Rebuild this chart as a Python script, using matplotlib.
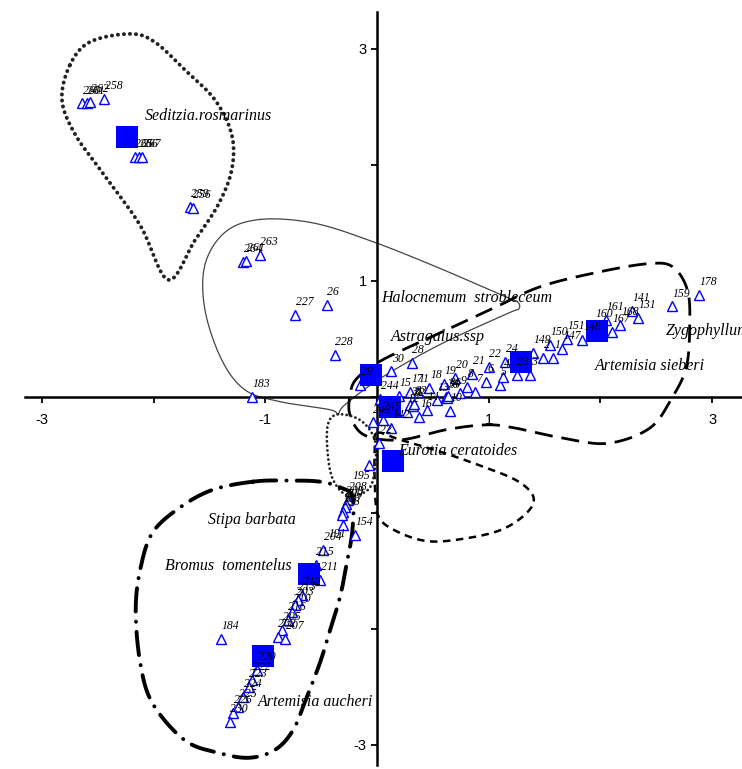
"""
Ordination biplot: sites (open triangles), species centroids (squares)
and hand-drawn group outlines.
"""
import numpy as np
import matplotlib
matplotlib.use('Agg')
import matplotlib.pyplot as plt
from matplotlib.transforms import Bbox, TransformedBbox

# ---- sites ----
site_x = [-2.64, -2.60, -2.57, -2.44, -2.17, -2.13, -2.10, -1.67, -1.65,
          -1.20, -1.17, -1.05, -0.73, -0.45, -0.38, -1.12, 0.13, 0.31, -0.15,
          -0.04, 0.05, 0.13, 0.03, 0.27, 0.38, 0.37, 0.45, 0.54, 0.65, 0.74,
          0.81, 0.88, 0.98, 1.10, 1.13, 1.25, 1.37, 1.49, 1.58, 1.66, 1.84,
          2.10, 2.18, 2.34, 2.64, 2.88,
          0.20, 0.30, 0.47, 0.60, 0.70, 0.85, 1.00, 1.15, 1.40, 1.55, 1.70,
          1.95, 2.05, 2.28, 0.30, 0.32, 0.33, 0.62, 0.63, 0.64,
          0.02, -0.07, -0.26, -0.28, -0.29, -0.30, -0.31, -0.30, -0.20,
          -0.48, -0.55, -0.51, -0.67, -0.71, -0.73, -0.76, -0.80, -0.85,
          -0.89, -0.82, -1.40, -1.07, -1.12, -1.15, -1.20, -1.24, -1.29, -1.32]
site_y = [2.53, 2.53, 2.54, 2.57, 2.07, 2.07, 2.07, 1.64, 1.63,
          1.16, 1.17, 1.22, 0.71, 0.79, 0.36, 0.00, 0.22, 0.29, 0.10,
          -0.22, -0.20, -0.27, -0.02, -0.13, -0.17, 0.04, -0.11, -0.03, -0.12, 0.03,
          0.09, 0.04, 0.13, 0.10, 0.17, 0.19, 0.19, 0.34, 0.34, 0.41, 0.49,
          0.56, 0.62, 0.68, 0.78, 0.88,
          0.01, 0.04, 0.08, 0.11, 0.16, 0.20, 0.26, 0.30, 0.38, 0.45, 0.50,
          0.60, 0.66, 0.74, -0.07, -0.08, -0.06, 0.00, -0.01, 0.01,
          -0.40, -0.59, -0.89, -0.92, -0.95, -0.99, -1.02, -1.10, -1.19,
          -1.32, -1.45, -1.58, -1.71, -1.75, -1.79, -1.85, -1.92, -2.01,
          -2.07, -2.09, -2.09, -2.35, -2.44, -2.50, -2.59, -2.67, -2.72, -2.80]
site_lab = ['260', '261', '262', '258', '265', '266', '267', '259', '256',
            '264', '261', '263', '227', '26', '228', '183', '30', '28', '29',
            '243', '245', '142', '244', '12', '16', '11', '14', '13', '10', '9',
            '8', '7', '6', '5', '4', '23', '3', '2', '1', '147', '148',
            '167', '168', '131', '159', '178',
            '15', '17', '18', '19', '20', '21', '22', '24', '149', '150', '151',
            '160', '161', '141', '31', '32', '33', '34', '35', '36',
            '22', '195', '208', '209', '200', '197', '198', '191', '154',
            '204', '215', '211', '212', '213', '203', '210', '216', '205',
            '202', '207', '184', '220', '222', '223', '224', '225', '226', '230']

# ---- species centroids ----
spec_x = [-2.24, -0.05, 0.12, 1.29, 1.97, 0.14, -0.61, -1.02]
spec_y = [2.24, 0.19, -0.09, 0.30, 0.57, -0.55, -1.53, -2.23]

# ---- species names ----
name_txt = ['Seditzia.rosmarinus', 'Halocnemum  strobleceum', 'Astragalus.ssp',
            'Zygophyllum', 'Artemisia sieberi', 'Eurotia ceratoides',
            'Stipa barbata', 'Bromus  tomentelus', 'Artemisia aucheri']
name_x = [-2.08, 0.04, 0.12, 2.59, 1.95, 0.19, -1.51, -1.90, -1.07]
name_y = [2.42, 0.85, 0.52, 0.57, 0.27, -0.47, -1.06, -1.46, -2.63]

# ---- group outlines (control points) ----
hull1_x = [-2.75, -2.57, -2.21, -1.99, -1.72, -1.45, -1.30, -1.30, -1.42, -1.63, -1.87, -2.12, -2.44, -2.70, -2.82]
hull1_y = [2.86, 3.06, 3.13, 3.06, 2.82, 2.56, 2.26, 1.96, 1.66, 1.35, 1.01, 1.48, 1.91, 2.26, 2.56]
hull2_x = [-1.05, -0.57, -0.04, 0.56, 1.16, 1.26, 1.27, 1.17, 0.56, 0.03, -0.29, -0.35, -0.42, -0.87, -1.18, -1.39, -1.54, -1.54, -1.36]
hull2_y = [1.53, 1.50, 1.34, 1.11, 0.86, 0.82, 0.76, 0.72, 0.45, 0.16, -0.07, -0.15, -0.11, -0.04, 0.06, 0.32, 0.75, 1.14, 1.42]
hull3_x = [-0.18, 0.05, 0.56, 1.01, 1.46, 2.00, 2.44, 2.65, 2.78, 2.80, 2.77, 2.64, 2.44, 2.06, 1.64, 1.25, 0.99, 0.63, 0.21, -0.11, -0.24, -0.24]
hull3_y = [0.16, 0.32, 0.55, 0.75, 0.95, 1.08, 1.15, 1.12, 0.92, 0.62, 0.26, -0.01, -0.27, -0.40, -0.35, -0.27, -0.24, -0.28, -0.37, -0.33, -0.16, 0.02]
hull4_x = [0.00, 0.21, 0.56, 0.92, 1.25, 1.40, 1.34, 1.10, 0.72, 0.43, 0.16, 0.01, -0.02, -0.02]
hull4_y = [-0.31, -0.37, -0.47, -0.59, -0.72, -0.86, -1.00, -1.15, -1.23, -1.24, -1.15, -1.02, -0.72, -0.46]
hull5_x = [-0.35, -0.44, -0.44, -0.39, -0.26, -0.08, -0.02, -0.02, -0.15]
hull5_y = [-0.15, -0.24, -0.50, -0.72, -0.85, -0.80, -0.63, -0.37, -0.20]
hull6_x = [-1.11, -0.81, -0.51, -0.33, -0.22, -0.22, -0.27, -0.33, -0.42, -0.51, -0.63, -0.75, -0.91, -1.14, -1.41, -1.72, -2.01, -2.12, -2.16, -2.12, -2.01, -1.76, -1.47]
hull6_y = [-0.73, -0.72, -0.73, -0.78, -0.86, -1.15, -1.43, -1.72, -2.01, -2.29, -2.59, -2.87, -3.04, -3.11, -3.07, -2.96, -2.64, -2.29, -1.84, -1.49, -1.17, -0.95, -0.80]


def smooth_closed(xs, ys, n=24):
    # closed Catmull-Rom spline through the control points
    P = np.column_stack([xs, ys])
    m = len(P)
    t = np.linspace(0, 1, n, endpoint=False)[:, None]
    segs = []
    for i in range(m):
        p0, p1, p2, p3 = P[i - 1], P[i], P[(i + 1) % m], P[(i + 2) % m]
        segs.append(0.5 * (2 * p1 + (-p0 + p2) * t + (2 * p0 - 5 * p1 + 4 * p2 - p3) * t ** 2
                           + (-p0 + 3 * p1 - 3 * p2 + p3) * t ** 3))
    segs.append(segs[0][:1])
    out = np.vstack(segs)
    return out[:, 0], out[:, 1]


fig = plt.figure(figsize=(7.42, 7.69), dpi=100)
ax = fig.add_axes([0, 0, 1, 1])
ax.set_xlim(-3.375, 3.268)
ax.set_ylim(-3.207, 3.422)

# outlines
hx, hy = smooth_closed(hull1_x, hull1_y)
ax.plot(hx, hy, color='#222222', lw=2.8, linestyle=(0, (0.05, 1.5)), dash_capstyle='round', zorder=2)
hx, hy = smooth_closed(hull2_x, hull2_y)
ax.plot(hx, hy, color='#444444', lw=0.9, zorder=2)
hx, hy = smooth_closed(hull3_x, hull3_y)
ax.plot(hx, hy, color='black', lw=2.0, linestyle=(0, (6.5, 3.2)), zorder=2)
hx, hy = smooth_closed(hull4_x, hull4_y)
ax.plot(hx, hy, color='black', lw=1.8, linestyle=(0, (3.0, 2.2)), zorder=2)
hx, hy = smooth_closed(hull5_x, hull5_y)
ax.plot(hx, hy, color='#222222', lw=2.0, linestyle=(0, (0.05, 1.6)), dash_capstyle='round', zorder=2)
hx, hy = smooth_closed(hull6_x, hull6_y)
ax.plot(hx, hy, color='black', lw=2.8, linestyle=(0, (6.0, 2.6, 0.05, 2.6)), dash_capstyle='round', zorder=2)

# sites
ax.plot(site_x, site_y, linestyle='none', marker='^', markersize=7.5,
        markerfacecolor='white', markeredgecolor='#0000ff', markeredgewidth=1.0, zorder=3)
special = {'195': (-12, -12), '191': (-11, -11)}
for x, y, s in zip(site_x, site_y, site_lab):
    off = special.get(s, (0.5, 5))
    ax.annotate(s, (x, y), xytext=off, textcoords='offset points',
                fontsize=8.5, family='Liberation Serif', style='italic',
                ha='left', va='bottom', color='black', zorder=5)

# species centroids
ax.plot(spec_x, spec_y, linestyle='none', marker='s', markersize=16,
        color='#0000ff', markeredgewidth=0, zorder=4)

for x, y, s in zip(name_x, name_y, name_txt):
    t = ax.text(x, y, s, fontsize=11.5, family='Liberation Serif', style='italic',
                ha='left', va='center', color='black', zorder=6)
    if s == 'Artemisia aucheri':
        t.set_clip_box(TransformedBbox(Bbox([[-3.3, -3.2], [0.0, 3.4]]), ax.transData))
        t.set_clip_on(True)

# axes through the origin
for side in ['top', 'right']:
    ax.spines[side].set_visible(False)
ax.spines['left'].set_position(('data', 0))
ax.spines['bottom'].set_position(('data', 0))
ax.spines['left'].set_bounds(-3.172, 3.319)
ax.spines['bottom'].set_bounds(-3.151, 3.268)
for side in ['left', 'bottom']:
    ax.spines[side].set_linewidth(1.8)
    ax.spines[side].set_zorder(2.5)

ticks = [-3, -2, -1, 0, 1, 2, 3]
ax.set_xticks(ticks)
ax.set_xticklabels(['-3', '', '-1', '', '1', '', '3'])
ax.set_yticks(ticks)
ax.set_yticklabels(['-3', '', '', '', '1', '', '3'])
ax.tick_params(axis='both', direction='out', length=4.5, width=1.3,
               labelsize=10.5, colors='black')
ax.tick_params(axis='x', pad=7)
ax.tick_params(axis='y', pad=3)
for lab in ax.get_xticklabels() + ax.get_yticklabels():
    lab.set_family('Liberation Sans')

fig.savefig('out.png', dpi=100)
